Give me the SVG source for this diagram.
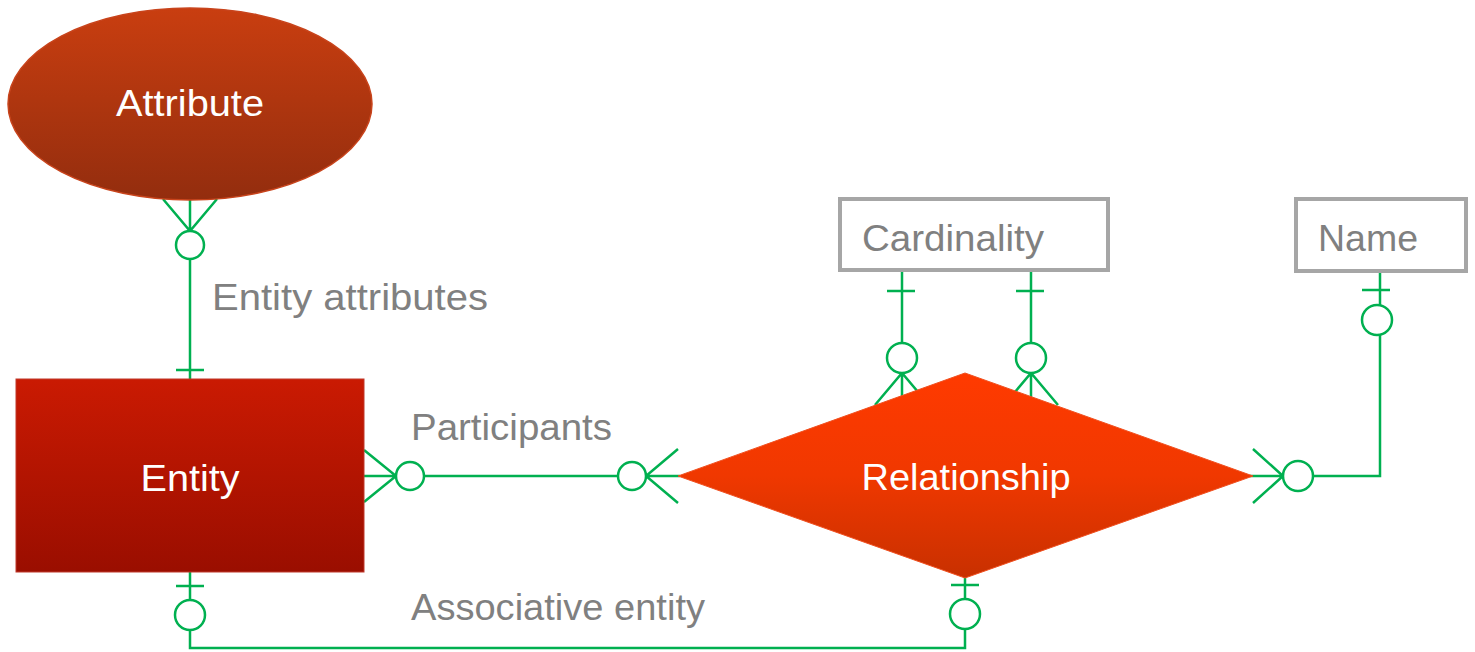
<svg xmlns="http://www.w3.org/2000/svg" width="1475" height="652" viewBox="0 0 1475 652">
<style>
.c{fill:none;stroke:#00B050;stroke-width:2.5}
.o{fill:#fff;stroke:#00B050;stroke-width:2.5}
.lbl{font-family:"Liberation Sans",Arial,sans-serif;font-size:36px;fill:#808080}
.wt{font-family:"Liberation Sans",Arial,sans-serif;font-size:36px;fill:#fff}
.box{fill:#fff;stroke:#A6A6A6;stroke-width:4}
</style>
<defs>
<linearGradient id="gA" x1="0" y1="0" x2="0" y2="1"><stop offset="0" stop-color="#C93E10"/><stop offset="1" stop-color="#932D0E"/></linearGradient>
<linearGradient id="gE" x1="0" y1="0" x2="0" y2="1"><stop offset="0" stop-color="#CA1A02"/><stop offset="1" stop-color="#9A0E00"/></linearGradient>
<linearGradient id="gR" x1="0" y1="0" x2="0" y2="1"><stop offset="0" stop-color="#FF3A00"/><stop offset="0.5" stop-color="#F03800"/><stop offset="1" stop-color="#C83000"/></linearGradient>
</defs>
<rect width="1475" height="652" fill="#fff"/>
<g id="connectors">
<g id="attr-entity">
<path class="c" d="M163,199 L190,231 L217,199 M190,199 L190,231 M190,259 L190,379 M176,370 L204,370"/>
<circle class="o" cx="190" cy="245" r="14"/>
</g>
<g id="entity-rel">
<path class="c" d="M364,450 L396,476 L364,502 M364,476 L396,476 M424,476 L618,476 M678,449 L646,476 L678,503 M646,476 L680,476"/>
<circle class="o" cx="410" cy="476" r="14"/>
<circle class="o" cx="632" cy="476" r="14"/>
</g>
<g id="rel-name">
<path class="c" d="M1250,476 L1283,476 M1253,449 L1283,476 L1253,503 M1313,476 L1380,476 L1380,334 M1380,305 L1380,271 M1362,290 L1390,290"/>
<circle class="o" cx="1298" cy="476" r="15"/>
<circle class="o" cx="1377" cy="320" r="15"/>
</g>
<g id="card-rel">
<path class="c" d="M902,271 L902,343 M887,291 L915,291 M875,405 L902,373 L929,405 M902,373 L902,420"/>
<circle class="o" cx="902" cy="358" r="15"/>
<path class="c" d="M1031,271 L1031,343 M1016,291 L1044,291 M1004,405 L1031,373 L1058,405 M1031,373 L1031,420"/>
<circle class="o" cx="1031" cy="358" r="15"/>
</g>
<g id="assoc">
<path class="c" d="M190,572 L190,600 M176,586 L204,586 M190,630 L190,648 L965,648 L965,629 M965,599 L965,576 M951,585 L979,585"/>
<circle class="o" cx="190" cy="615" r="15"/>
<circle class="o" cx="965" cy="614" r="15"/>
</g>
</g>
<g id="attribute">
<ellipse cx="190" cy="104" rx="182" ry="96" fill="url(#gA)" stroke="#C8441C" stroke-width="1.5"/>
<text class="wt" x="190" y="116" text-anchor="middle" textLength="148" lengthAdjust="spacingAndGlyphs">Attribute</text>
</g>
<g id="entity">
<rect x="16" y="379" width="348" height="193" fill="url(#gE)" stroke="#C0392B" stroke-width="1"/>
<text class="wt" x="190" y="491" text-anchor="middle" textLength="99" lengthAdjust="spacingAndGlyphs">Entity</text>
</g>
<g id="relationship">
<polygon points="678,476 965,373 1253,476 965,578" fill="url(#gR)" stroke="#F05020" stroke-width="1"/>
<text class="wt" x="966" y="490" text-anchor="middle" textLength="209" lengthAdjust="spacingAndGlyphs">Relationship</text>
</g>
<g id="cardinality">
<rect class="box" x="840" y="199" width="268" height="71"/>
<text class="lbl" x="862" y="251" textLength="182" lengthAdjust="spacingAndGlyphs">Cardinality</text>
</g>
<g id="name">
<rect class="box" x="1296" y="199" width="170" height="72"/>
<text class="lbl" x="1318" y="251" textLength="100" lengthAdjust="spacingAndGlyphs">Name</text>
</g>
<g id="labels">
<text class="lbl" x="212" y="310" textLength="276" lengthAdjust="spacingAndGlyphs">Entity attributes</text>
<text class="lbl" x="411" y="440" textLength="201" lengthAdjust="spacingAndGlyphs">Participants</text>
<text class="lbl" x="411" y="620" textLength="294" lengthAdjust="spacingAndGlyphs">Associative entity</text>
</g>
</svg>
